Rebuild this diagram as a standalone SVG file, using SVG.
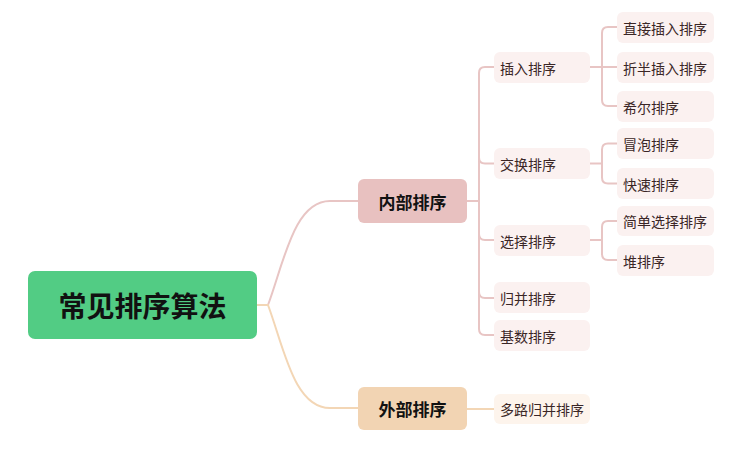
<svg xmlns="http://www.w3.org/2000/svg" width="746" height="449" viewBox="0 0 746 449">
<style>
text{font-family:"Noto Sans CJK SC","Noto Sans",sans-serif;dominant-baseline:central}
.root{fill:#52cc84}
.rt{font-size:28px;font-weight:bold;fill:#111;text-anchor:middle}
.l1a{fill:#e8c1c0}
.l1b{fill:#f2d4b3}
.l1t{font-size:17px;font-weight:bold;fill:#111;text-anchor:middle}
.l2a{fill:#fbf1f0}
.l2b{fill:#fdf4ec}
.lt{font-size:14px;fill:#3a2626}
.ca{fill:none;stroke:#e8c5c4;stroke-width:2}
.cb{fill:none;stroke:#f3d6b5;stroke-width:2}
</style>
<rect width="746" height="449" fill="#fff"/>
<g id="connectors">
<path class="ca" d="M268 305 C284 262 294 201 330 201 H358"/>
<path class="cb" d="M256 305 H268 C284 348 294 408 330 408 H358"/>
<path class="ca" d="M467 201 H479"/>
<path class="ca" d="M494 67 H485 Q479 67 479 73 V329 Q479 335 485 335 H494"/>
<path class="ca" d="M479 157.5 Q479 163.5 485 163.5 H494"/>
<path class="ca" d="M479 234 Q479 240 485 240 H494"/>
<path class="ca" d="M479 292 Q479 298 485 298 H494"/>
<path class="ca" d="M590 67 H602"/>
<path class="ca" d="M617 27 H608 Q602 27 602 33 V100 Q602 106 608 106 H617"/>
<path class="ca" d="M602 67 H617"/>
<path class="ca" d="M590 163.5 H602"/>
<path class="ca" d="M617 143.5 H608 Q602 143.5 602 149.5 V177.5 Q602 183.5 608 183.5 H617"/>
<path class="ca" d="M590 240 H602"/>
<path class="ca" d="M617 221 H608 Q602 221 602 227 V254 Q602 260 608 260 H617"/>
<path class="cb" d="M467 409 H494"/>
</g>
<g id="root"><rect class="root" x="28" y="271" width="229" height="68" rx="7"/><text class="rt" x="142.5" y="305">常见排序算法</text></g>
<g id="n-internal"><rect class="l1a" x="358" y="179" width="109" height="44" rx="6"/><text class="l1t" x="412.5" y="201">内部排序</text></g>
<g id="n-external"><rect class="l1b" x="358" y="387" width="109" height="43" rx="6"/><text class="l1t" x="412.5" y="408.5">外部排序</text></g>
<g id="n-insert"><rect class="l2a" x="494" y="52" width="96" height="31" rx="6"/><text class="lt" x="500" y="67.5">插入排序</text></g>
<g id="n-swap"><rect class="l2a" x="494" y="148" width="96" height="31" rx="6"/><text class="lt" x="500" y="163.5">交换排序</text></g>
<g id="n-select"><rect class="l2a" x="494" y="225" width="96" height="31" rx="6"/><text class="lt" x="500" y="240.5">选择排序</text></g>
<g id="n-merge"><rect class="l2a" x="494" y="282" width="96" height="31" rx="6"/><text class="lt" x="500" y="297.5">归并排序</text></g>
<g id="n-radix"><rect class="l2a" x="494" y="320" width="96" height="31" rx="6"/><text class="lt" x="500" y="335.5">基数排序</text></g>
<g id="n-multi"><rect class="l2b" x="494" y="394" width="96" height="30" rx="6"/><text class="lt" x="500" y="409">多路归并排序</text></g>
<g id="n-direct"><rect class="l2a" x="617" y="12" width="97" height="31" rx="6"/><text class="lt" x="623" y="27.5">直接插入排序</text></g>
<g id="n-binary"><rect class="l2a" x="617" y="52" width="97" height="31" rx="6"/><text class="lt" x="623" y="67.5">折半插入排序</text></g>
<g id="n-shell"><rect class="l2a" x="617" y="91" width="97" height="31" rx="6"/><text class="lt" x="623" y="106.5">希尔排序</text></g>
<g id="n-bubble"><rect class="l2a" x="617" y="128" width="97" height="31" rx="6"/><text class="lt" x="623" y="143.5">冒泡排序</text></g>
<g id="n-quick"><rect class="l2a" x="617" y="168" width="97" height="31" rx="6"/><text class="lt" x="623" y="183.5">快速排序</text></g>
<g id="n-simple"><rect class="l2a" x="617" y="206" width="97" height="30" rx="6"/><text class="lt" x="623" y="221">简单选择排序</text></g>
<g id="n-heap"><rect class="l2a" x="617" y="245" width="97" height="31" rx="6"/><text class="lt" x="623" y="260.5">堆排序</text></g>
</svg>
